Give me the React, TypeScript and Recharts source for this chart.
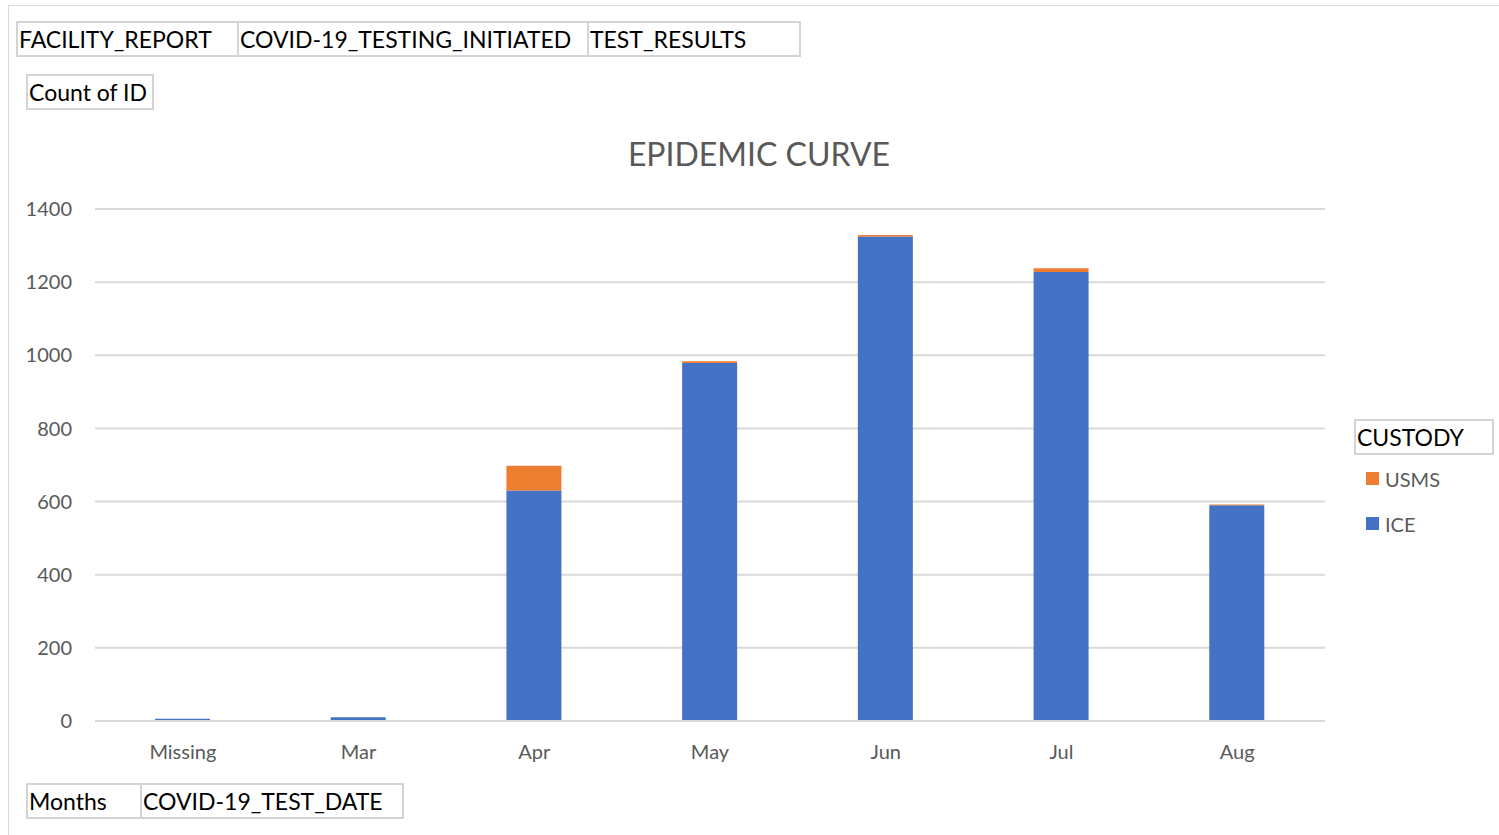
import React from 'react';
import { BarChart, Bar, XAxis, YAxis, CartesianGrid } from 'recharts';

const months = ['Missing', 'Mar', 'Apr', 'May', 'Jun', 'Jul', 'Aug'];
const iceCounts = [6, 10, 630, 979, 1325, 1228, 590];
const usmsCounts = [0, 0, 68, 5, 4, 10, 2];
const yTicks = [0, 200, 400, 600, 800, 1000, 1200, 1400];
const legendItems = ['USMS', 'ICE'];

const chartData = months.map((month, i) => ({
  month,
  ICE: iceCounts[i],
  USMS: usmsCounts[i],
}));

const FONT = 'Lato, "Open Sans", sans-serif';
const ICE_COLOR = '#4472C4';
const USMS_COLOR = '#ED7D31';
const colorOf: Record<string, string> = { ICE: ICE_COLOR, USMS: USMS_COLOR };

const fieldBox = (left: number, top: number, width: number, text: string) => (
  <div
    style={{
      position: 'absolute',
      left,
      top,
      width,
      height: 36,
      boxSizing: 'border-box',
      border: '2px solid #d4d4d4',
      fontFamily: FONT,
      fontSize: 23,
      lineHeight: '33px',
      paddingLeft: 1,
      color: '#000',
      whiteSpace: 'nowrap',
      overflow: 'hidden',
    }}
  >
    {text}
  </div>
);

export default function App() {
  return (
    <div
      style={{
        position: 'absolute',
        left: 0,
        top: 0,
        width: 1499,
        height: 835,
        background: '#fff',
        overflow: 'hidden',
      }}
    >
      <div
        style={{
          position: 'absolute',
          left: 8,
          top: 5,
          width: 1491,
          height: 830,
          borderTop: '1px solid #d9d9d9',
          borderLeft: '1px solid #d9d9d9',
        }}
      />
      {fieldBox(16, 21, 223, 'FACILITY_REPORT')}
      {fieldBox(237, 21, 352, 'COVID-19_TESTING_INITIATED')}
      {fieldBox(587, 21, 214, 'TEST_RESULTS')}
      {fieldBox(26, 74, 128, 'Count of ID')}
      {fieldBox(26, 783, 116, 'Months')}
      {fieldBox(140, 783, 264, 'COVID-19_TEST_DATE')}
      {fieldBox(1354, 419, 140, 'CUSTODY')}
      <div
        style={{
          position: 'absolute',
          left: 0,
          width: 1518,
          top: 134,
          textAlign: 'center',
          fontFamily: FONT,
          fontSize: 32,
          color: '#595959',
        }}
      >
        EPIDEMIC CURVE
      </div>
      {/* legend drawn outside the chart so it doesn't shrink the plot area */}
      <div
        style={{
          position: 'absolute',
          left: 1366,
          top: 456,
          fontFamily: FONT,
          color: '#595959',
          fontSize: 20,
        }}
      >
        {legendItems.map((name) => (
          <div key={name} style={{ display: 'flex', alignItems: 'center', height: 45 }}>
            <span style={{ width: 13, height: 13, background: colorOf[name], marginRight: 6 }} />
            {name}
          </div>
        ))}
      </div>
      <div style={{ position: 'absolute', left: 0, top: 0 }}>
        <BarChart
          width={1499}
          height={835}
          data={chartData}
          margin={{ top: 209, right: 174, left: 35, bottom: 84 }}
          barSize={55}
        >
          <CartesianGrid vertical={false} stroke="#d9d9d9" strokeWidth={2} />
          <XAxis
            dataKey="month"
            axisLine={{ stroke: '#d9d9d9', strokeWidth: 2 }}
            tickLine={false}
            tick={{ fill: '#595959', fontSize: 20, fontFamily: FONT }}
            tickMargin={18}
            height={30}
          />
          <YAxis
            ticks={yTicks}
            domain={[0, 1400]}
            axisLine={false}
            tickLine={false}
            width={60}
            tick={{ fill: '#595959', fontSize: 20, fontFamily: FONT }}
            tickMargin={17}
          />
          <Bar dataKey="ICE" stackId="custody" fill={ICE_COLOR} isAnimationActive={false} />
          <Bar dataKey="USMS" stackId="custody" fill={USMS_COLOR} isAnimationActive={false} />
        </BarChart>
      </div>
    </div>
  );
}
